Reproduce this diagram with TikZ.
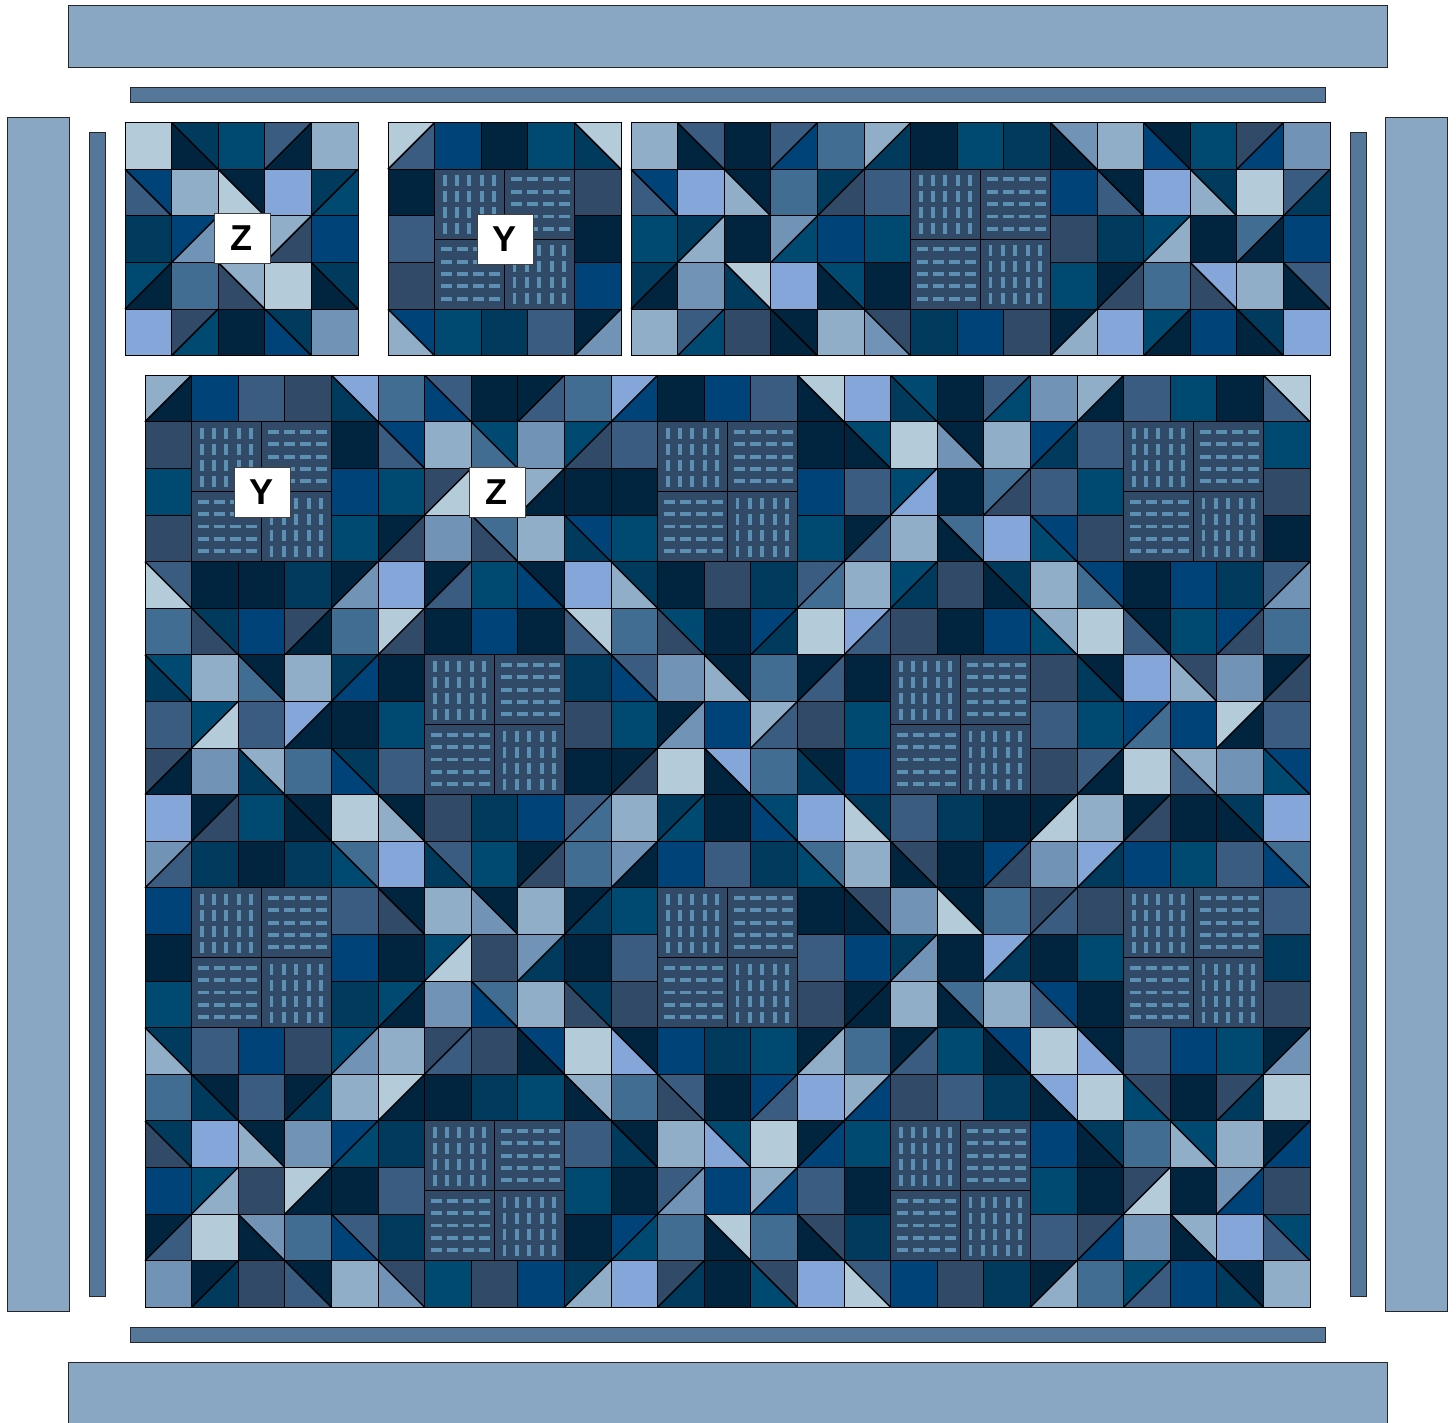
\documentclass[tikz,border=0pt]{standalone}
\usepackage{fontspec}
\setmainfont{Liberation Sans}
\definecolor{qa}{HTML}{B4CBDA}
\definecolor{qb}{HTML}{90AEC8}
\definecolor{qc}{HTML}{84A6D9}
\definecolor{qd}{HTML}{7093B6}
\definecolor{qe}{HTML}{416D93}
\definecolor{qf}{HTML}{3A5C80}
\definecolor{qg}{HTML}{304A68}
\definecolor{qh}{HTML}{01253E}
\definecolor{qi}{HTML}{003A5C}
\definecolor{qj}{HTML}{004A72}
\definecolor{qk}{HTML}{004378}
\definecolor{qband}{HTML}{89A6C3}
\definecolor{qstrip}{HTML}{557799}
\definecolor{qdashc}{HTML}{5C90B2}
\tikzset{
  bandbox/.style={draw=black!85,line width=.9pt,fill=qband},
  stripbox/.style={draw=black!85,line width=.9pt,fill=qstrip},
  tilebox/.style={draw=black,line width=1.2pt,fill=qg},
  tick/.style={draw=qdashc,line width=3.9pt},
  seam/.style={draw=black,line width=1pt},
  diag/.style={draw=black,line width=1.5pt},
  tag/.style={draw=black!75,line width=.8pt,fill=white,minimum width=56pt,minimum height=50pt,inner sep=0pt,font=\fontsize{36}{36}\selectfont\bfseries}
}
\newcommand\qsize{46.6}
\newcommand\qlab[1]{\raisebox{-1.5pt}{\hspace{-2pt}#1}}
% parse one cell: letter = solid, Uxy = "/" (upper-left x, lower-right y), Dxy = "\" (upper-right x, lower-left y), m = left for a mat
\def\qparse#1#2#3#4\qend{%
  \ifx#1m\relax\else
  \ifx#1U%
    \fill[q#2] (\qx,\qy) -- ++(\qsize,0) -- ++(-\qsize,\qsize) -- cycle;
    \fill[q#3] (\qx+\qsize,\qy) -- ++(0,\qsize) -- ++(-\qsize,0) -- cycle;
    \draw[diag] (\qx,\qy+\qsize) -- (\qx+\qsize,\qy);
  \else\ifx#1D%
    \fill[q#2] (\qx,\qy) -- ++(\qsize,0) -- ++(0,\qsize) -- cycle;
    \fill[q#3] (\qx,\qy) -- ++(\qsize,\qsize) -- ++(-\qsize,0) -- cycle;
    \draw[diag] (\qx,\qy) -- (\qx+\qsize,\qy+\qsize);
  \else
    \fill[q#1] (\qx,\qy) rectangle ++(\qsize,\qsize);
  \fi\fi
  \draw[seam] (\qx,\qy) rectangle ++(\qsize,\qsize);
  \fi}
\newcommand\qgrid[3]{%
  \foreach \qrow [count=\qr from 0] in {#3}{%
    \foreach \qt [count=\qc from 0] in \qrow{%
      \pgfmathsetmacro\qx{#1+\qc*\qsize}%
      \pgfmathsetmacro\qy{#2+\qr*\qsize}%
      \expandafter\qparse\qt...\qend
    }}}
\newcommand\qtileV[2]{%
  \draw[tilebox] (#1,#2) rectangle ++(69.9,69.9);
  \foreach \qp in {10,22.4,34.8,47.2,59.6}\foreach \qs in {6,22,38,54}
    \draw[tick] (#1+\qp,#2+\qs) -- ++(0,11);}
\newcommand\qtileH[2]{%
  \draw[tilebox] (#1,#2) rectangle ++(69.9,69.9);
  \foreach \qp in {10,22.4,34.8,47.2,59.6}\foreach \qs in {6,22,38,54}
    \draw[tick] (#1+\qs,#2+\qp) -- ++(11,0);}
\newcommand\qmat[2]{%
  \qtileV{#1}{#2}\qtileH{#1+69.9}{#2}%
  \qtileH{#1}{#2+69.9}\qtileV{#1+69.9}{#2+69.9}}
\begin{document}
\begin{tikzpicture}[x=1pt,y=-1pt]
\useasboundingbox (0,0) rectangle (1456,1422);
\clip (0,0) rectangle (1456,1422);
% borders
\draw[bandbox] (68,5) rectangle (1387,67);
\draw[bandbox] (68,1362) rectangle (1387,1432);
\draw[bandbox] (7.3,117) rectangle (69.3,1311);
\draw[bandbox] (1385.3,117) rectangle (1447.3,1311);
\draw[stripbox] (130,87) rectangle (1325,102);
\draw[stripbox] (130,1327) rectangle (1325,1342);
\draw[stripbox] (89.3,132) rectangle (105,1296);
\draw[stripbox] (1350.3,132) rectangle (1366,1296);
% small block Z
\qgrid{125}{122.7}{
 {a,Dih,j,Ufh,b},
 {Dkf,b,Dha,c,Uij},
 {i,Ukd,h,Ubg,k},
 {Ujh,e,Dbg,a,Dih},
 {c,Ugj,h,Dik,d}}
% small block Y
\qgrid{388}{122.7}{
 {Uaf,k,h,j,Dai},
 {h,m,m,m,g},
 {f,m,m,m,h},
 {g,m,m,m,k},
 {Dkb,j,i,f,Uhd}}
\qmat{434.6}{169.3}
% wide block
\qgrid{631}{122.7}{
 {b,Dfh,h,Ufk,e,Ubi,h,j,i,Ddh,b,Dhk,j,Ugk,d},
 {Dkf,c,Dhb,e,Uig,f,m,m,m,k,Dhf,c,Dib,a,Ufi},
 {j,Uib,h,Udj,k,j,m,m,m,g,i,Ujb,h,Ueh,k},
 {Uih,d,Dai,c,Djh,h,m,m,m,j,Uhg,e,Dcg,b,Dfh},
 {b,Ufj,g,Dhh,b,Dgd,i,k,g,Uhb,c,Ujh,k,Dih,c}}
\qmat{910.6}{169.3}
% main block
\qgrid{145}{375.2}{
 {Ubh,k,f,g,Dci,e,Dfk,h,Uhf,e,Uck,h,k,f,Dah,c,Dji,h,Ufj,d,Ubh,f,j,h,Daf},
 {g,m,m,m,h,Dkf,b,Dje,d,Ujg,f,m,m,m,h,Djh,a,Dhd,b,Uki,f,m,m,m,j},
 {j,m,m,m,k,j,Uga,h,Ubh,h,h,m,m,m,k,f,Ujc,h,Ueg,f,j,m,m,m,g},
 {g,m,m,m,j,Uhg,d,Deg,b,Dki,j,m,m,m,j,Uhf,b,Deh,c,Dkj,g,m,m,m,h},
 {Dfa,h,h,i,Uhd,c,Uhf,j,Dhk,c,Dib,h,g,i,Ufe,b,Uji,g,Dih,b,Dke,h,k,i,Ufd},
 {e,Dig,k,Ugh,e,Uag,h,k,h,Daf,e,Djg,h,Uki,a,Ucf,g,h,k,Dbj,a,Dhf,j,Ukg,e},
 {Dji,b,Dhe,b,Uik,h,m,m,m,i,Dfk,d,Dhb,e,Uhf,h,m,m,m,g,Dhi,c,Dgb,d,Uhg},
 {f,Uja,f,Uch,h,j,m,m,m,g,j,Uhd,k,Ubf,g,j,m,m,m,f,j,Uke,k,Uah,f},
 {Ugh,d,Dbi,e,Dik,f,m,m,m,h,Uhg,a,Dch,e,Dhi,k,m,m,m,g,Ufh,a,Dbf,d,Dkj},
 {c,Uhg,j,Dhh,a,Dhb,g,i,k,Ufe,b,Uij,h,Djk,c,Dia,f,i,h,Uha,b,Uhg,h,Dih,c},
 {Udf,i,h,i,Dej,c,Dfi,j,Uhg,e,Udh,k,f,i,Dej,b,Dgh,h,Ukg,d,Uci,k,j,f,Dek},
 {k,m,m,m,f,Dhg,b,Dhd,b,Uhi,j,m,m,m,h,Dgh,d,Dha,e,Ugf,g,m,m,m,f},
 {h,m,m,m,k,h,Uja,g,Udi,h,f,m,m,m,f,k,Uid,h,Uci,h,j,m,m,m,i},
 {j,m,m,m,i,Ujh,d,Dek,b,Dig,g,m,m,m,g,Uhh,b,Deh,b,Dkf,h,m,m,m,g},
 {Dib,f,k,g,Ujd,b,Ugf,g,Dkh,a,Dhc,k,i,j,Uhb,e,Uhf,j,Dkh,a,Dhc,f,k,j,Uhd},
 {e,Dhi,f,Uhi,b,Uah,h,i,j,Dbh,e,Dfg,h,Ukf,c,Ubk,g,f,i,Dch,a,Dgj,h,Ugi,a},
 {Dig,c,Dhb,d,Ukj,i,m,m,m,f,Dhi,b,Djc,a,Uhk,j,m,m,m,k,Dih,e,Djb,b,Uhk},
 {k,Ujb,g,Uah,h,f,m,m,m,j,h,Ufd,k,Ubk,f,h,m,m,m,j,h,Uga,h,Udk,g},
 {Uhf,a,Ddh,e,Dfk,i,m,m,m,h,Ukj,e,Dah,e,Dgh,i,m,m,m,f,Ugk,d,Dbh,c,Djf},
 {d,Uhi,g,Dhf,b,Dgd,j,g,k,Uib,c,Ugi,h,Dgj,c,Dfa,k,g,i,Uhb,e,Ujf,k,Dhi,b}}
\foreach \qmx/\qmy in {1/1,11/1,21/1,6/6,16/6,1/11,11/11,21/11,6/16,16/16}{
  \pgfmathsetmacro\qax{145+\qmx*\qsize}
  \pgfmathsetmacro\qay{375.2+\qmy*\qsize}
  \qmat{\qax}{\qay}
}
% labels
\node[tag] (zsmall) at (242,238) {\qlab{Z}};
\node[tag] (ysmall) at (505,239) {\qlab{Y}};
\node[tag] (ymain) at (262.5,492) {\qlab{Y}};
\node[tag] (zmain) at (497,492) {\qlab{Z}};
\end{tikzpicture}
\end{document}
